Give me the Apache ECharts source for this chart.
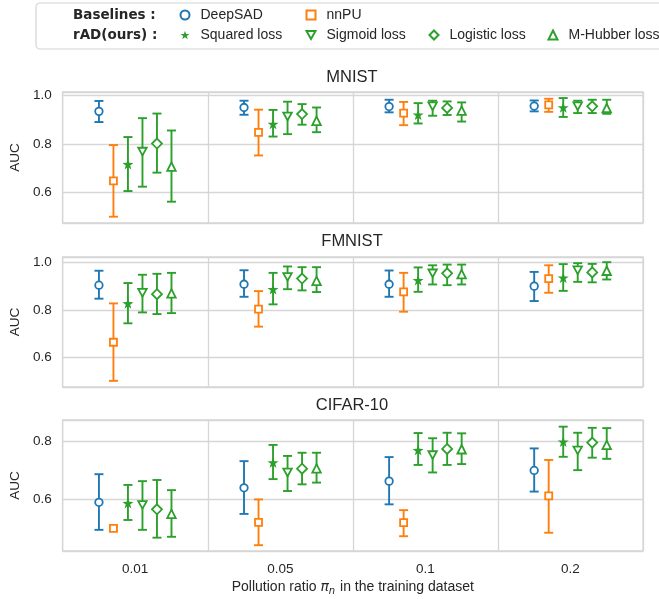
<!DOCTYPE html>
<html>
<head>
<meta charset="utf-8">
<script src="https://cdn.jsdelivr.net/npm/echarts@6/dist/echarts.min.js"></script>
<style>
  html, body { margin: 0; padding: 0; background: #fff; }
  #chart { width: 659px; height: 599px; }
</style>
</head>
<body>
<div id="chart"></div>
<script>
// Pollution ratios on the x axis
const ratios = ['0.01', '0.05', '0.1', '0.2'];
const methods = ['DeepSAD', 'nnPU', 'Squared loss', 'Sigmoid loss', 'Logistic loss', 'M-Hubber loss'];
const datasets = ['MNIST', 'FMNIST', 'CIFAR-10'];

// AUC mean / lower / upper, one row per method, one column per ratio
const mnistMean = [
  [0.934, 0.950, 0.954, 0.956],
  [0.647, 0.847, 0.927, 0.961],
  [0.716, 0.882, 0.920, 0.950],
  [0.768, 0.913, 0.955, 0.955],
  [0.801, 0.923, 0.948, 0.955],
  [0.706, 0.895, 0.937, 0.948]
];
const mnistLow = [
  [0.890, 0.920, 0.930, 0.934],
  [0.499, 0.752, 0.877, 0.932],
  [0.605, 0.830, 0.884, 0.911],
  [0.623, 0.840, 0.916, 0.927],
  [0.681, 0.879, 0.919, 0.927],
  [0.561, 0.848, 0.892, 0.924]
];
const mnistHigh = [
  [0.977, 0.978, 0.982, 0.979],
  [0.795, 0.941, 0.973, 0.986],
  [0.828, 0.940, 0.968, 0.989],
  [0.906, 0.974, 0.978, 0.978],
  [0.925, 0.964, 0.975, 0.982],
  [0.855, 0.950, 0.971, 0.982]
];

const fmnistMean = [
  [0.905, 0.909, 0.909, 0.901],
  [0.664, 0.804, 0.877, 0.933],
  [0.828, 0.888, 0.926, 0.936],
  [0.873, 0.940, 0.955, 0.968],
  [0.867, 0.933, 0.955, 0.959],
  [0.870, 0.923, 0.952, 0.966]
];
const fmnistLow = [
  [0.848, 0.856, 0.856, 0.838],
  [0.501, 0.730, 0.793, 0.873],
  [0.744, 0.824, 0.877, 0.881],
  [0.790, 0.888, 0.908, 0.919],
  [0.783, 0.883, 0.905, 0.917],
  [0.787, 0.876, 0.908, 0.929]
];
const fmnistHigh = [
  [0.966, 0.968, 0.967, 0.961],
  [0.828, 0.880, 0.957, 0.989],
  [0.914, 0.957, 0.980, 0.994],
  [0.949, 0.984, 0.989, 0.998],
  [0.953, 0.981, 0.992, 0.995],
  [0.957, 0.981, 0.992, 1.002]
];

const cifarMean = [
  [0.591, 0.641, 0.664, 0.701],
  [0.501, 0.522, 0.521, 0.613],
  [0.588, 0.728, 0.771, 0.800],
  [0.582, 0.694, 0.754, 0.770],
  [0.567, 0.707, 0.775, 0.797],
  [0.551, 0.708, 0.774, 0.789]
];
const cifarLow = [
  [0.496, 0.551, 0.584, 0.628],
  [0.493, 0.443, 0.474, 0.486],
  [0.530, 0.671, 0.720, 0.748],
  [0.496, 0.630, 0.694, 0.702],
  [0.469, 0.653, 0.720, 0.745],
  [0.472, 0.659, 0.723, 0.741]
];
const cifarHigh = [
  [0.688, 0.733, 0.747, 0.777],
  [0.508, 0.601, 0.564, 0.737],
  [0.651, 0.789, 0.830, 0.852],
  [0.664, 0.751, 0.812, 0.831],
  [0.668, 0.762, 0.831, 0.848],
  [0.633, 0.762, 0.829, 0.847]
];

const FONT = "'Liberation Sans', Arial, sans-serif";
const TEXT = '#262626';
const GRID_LINE = '#d6d6d6';
const BLUE = '#1f77b4', ORANGE = '#ff7f0e', GREEN = '#2ca02c';

const STAR = 'path://M50,0 L61.76,33.82 L97.55,34.55 L69.02,56.18 L79.39,90.45 L50,70 L20.61,90.45 L30.98,56.18 L2.45,34.55 L38.24,33.82 Z';
const TRI_DOWN = 'path://M0,0 L10,0 L5,9 Z';

const markerStyles = [
  { color: BLUE,   symbol: 'circle',   size: 7.5, filled: false },
  { color: ORANGE, symbol: 'rect',     size: 7,   filled: false },
  { color: GREEN,  symbol: STAR,       size: 11,  filled: true  },
  { color: GREEN,  symbol: TRI_DOWN,   size: 8.5, filled: false },
  { color: GREEN,  symbol: 'diamond',  size: 10,  filled: false },
  { color: GREEN,  symbol: 'triangle', size: 8.5, filled: false }
];

const panels = [
  { mean: mnistMean,  low: mnistLow,  high: mnistHigh,  top: 92,  height: 131, min: 0.473, max: 1.014 },
  { mean: fmnistMean, low: fmnistLow, high: fmnistHigh, top: 257, height: 130, min: 0.475, max: 1.024 },
  { mean: cifarMean,  low: cifarLow,  high: cifarHigh,  top: 420, height: 131, min: 0.423, max: 0.875 }
];

// offset of each method inside its ratio band (in category units)
const offset = m => (m - 2.5) * 0.1;

const grids = [], xAxes = [], yAxes = [], scatterSeries = [], barSeries = [];

panels.forEach((p, i) => {
  const last = i === panels.length - 1;
  grids.push({
    left: 61, right: 16, top: p.top, height: p.height,
    show: true, borderColor: GRID_LINE, borderWidth: 1.3, backgroundColor: '#fff'
  });
  xAxes.push({
    type: 'category', gridIndex: i, data: ratios, boundaryGap: true,
    axisLine: { show: false }, axisTick: { show: false },
    axisLabel: { show: last, fontSize: 13.5, color: TEXT, fontFamily: FONT, margin: 11 },
    splitLine: { show: true, lineStyle: { color: GRID_LINE, width: 1.3 } },
    name: last ? 'Pollution ratio {pi|π}{sub|n} in the training dataset' : '',
    nameLocation: 'middle', nameGap: 27,
    nameTextStyle: {
      fontSize: 14, color: TEXT, fontFamily: FONT,
      rich: {
        pi: { fontSize: 14, fontStyle: 'italic', color: TEXT, fontFamily: "'DejaVu Sans'" },
        sub: { fontSize: 10, fontStyle: 'italic', color: TEXT, fontFamily: "'DejaVu Sans'", padding: [8, 1, 0, 0] }
      }
    }
  });
  xAxes.push({
    type: 'value', gridIndex: i, min: -0.5, max: ratios.length - 0.5, show: false
  });
  yAxes.push({
    type: 'value', gridIndex: i, min: p.min, max: p.max, splitNumber: 3,
    axisLine: { show: false }, axisTick: { show: false },
    axisLabel: {
      fontSize: 13.5, color: TEXT, fontFamily: FONT, margin: 11,
      showMinLabel: false, showMaxLabel: false,
      formatter: v => v.toFixed(1)
    },
    splitLine: { show: true, lineStyle: { color: GRID_LINE, width: 1.3 } },
    name: 'AUC', nameLocation: 'middle', nameGap: 37,
    nameTextStyle: { fontSize: 13.5, color: TEXT, fontFamily: FONT }
  });

  methods.forEach((name, m) => {
    const st = markerStyles[m];
    scatterSeries.push({
      type: 'scatter', name,
      xAxisIndex: 2 * i + 1, yAxisIndex: i,
      symbol: st.symbol, symbolSize: st.size, symbolKeepAspect: true,
      itemStyle: st.filled
        ? { color: st.color, borderWidth: 0, opacity: 1 }
        : { color: '#fff', borderColor: st.color, borderWidth: 1.8, opacity: 1 },
      emphasis: { disabled: true },
      z: 5,
      data: ratios.map((_, j) => [j + offset(m), p.mean[m][j]])
    });
    barSeries.push({
      type: 'custom', name,
      xAxisIndex: 2 * i + 1, yAxisIndex: i,
      z: 3, silent: true,
      data: ratios.map((_, j) => [j + offset(m), p.low[m][j], p.high[m][j]]),
      renderItem: (params, api) => {
        const x = api.value(0);
        const lo = api.coord([x, api.value(1)]);
        const hi = api.coord([x, api.value(2)]);
        const cap = 4.5;
        const style = { stroke: st.color, lineWidth: 1.9, fill: null };
        return {
          type: 'group',
          children: [
            { type: 'line', shape: { x1: lo[0], y1: lo[1], x2: hi[0], y2: hi[1] }, style },
            { type: 'line', shape: { x1: lo[0] - cap, y1: lo[1], x2: lo[0] + cap, y2: lo[1] }, style },
            { type: 'line', shape: { x1: hi[0] - cap, y1: hi[1], x2: hi[0] + cap, y2: hi[1] }, style }
          ]
        };
      }
    });
  });
});

const legendBase = {
  orient: 'vertical', padding: 0, itemGap: 6, itemWidth: 9, itemHeight: 9,
  selectedMode: false,
  textStyle: { fontSize: 14, lineHeight: 14, color: TEXT, fontFamily: FONT, padding: [0, 0, 0, 6] }
};

const titleText = (txt, y) => ({
  type: 'text', x: 352, y,
  style: { text: txt, align: 'center', verticalAlign: 'middle', fontSize: 16.5, fill: TEXT, fontFamily: FONT }
});

const option = {
  animation: false,
  backgroundColor: '#fff',
  textStyle: { fontFamily: FONT },
  grid: grids,
  xAxis: xAxes,
  yAxis: yAxes,
  legend: [
    Object.assign({}, legendBase, { left: 179.5, top: 8, data: ['DeepSAD', 'Squared loss'] }),
    Object.assign({}, legendBase, { left: 305.5, top: 8, data: ['nnPU', 'Sigmoid loss'] }),
    Object.assign({}, legendBase, { left: 428.5, top: 28, data: ['Logistic loss'] }),
    Object.assign({}, legendBase, { left: 547.5, top: 28, data: ['M-Hubber loss'] })
  ],
  graphic: [
    {
      type: 'rect', z: -1,
      shape: { x: 36, y: 3, width: 640, height: 46, r: 4 },
      style: { fill: '#fff', stroke: '#d4d4d4', lineWidth: 1.2 }
    },
    {
      type: 'text', x: 73, y: 15,
      style: { text: 'Baselines :', verticalAlign: 'middle', fontSize: 13.5, fontWeight: 'bold', fill: TEXT, fontFamily: "'DejaVu Sans'" }
    },
    {
      type: 'text', x: 73, y: 35,
      style: { text: 'rAD(ours) :', verticalAlign: 'middle', fontSize: 13.5, fontWeight: 'bold', fill: TEXT, fontFamily: "'DejaVu Sans'" }
    },
    titleText('MNIST', 77.5),
    titleText('FMNIST', 241.5),
    titleText('CIFAR-10', 405)
  ],
  series: scatterSeries.concat(barSeries)
};

const chart = echarts.init(document.getElementById('chart'), null, { renderer: 'canvas' });
chart.setOption(option);
</script>
</body>
</html>
